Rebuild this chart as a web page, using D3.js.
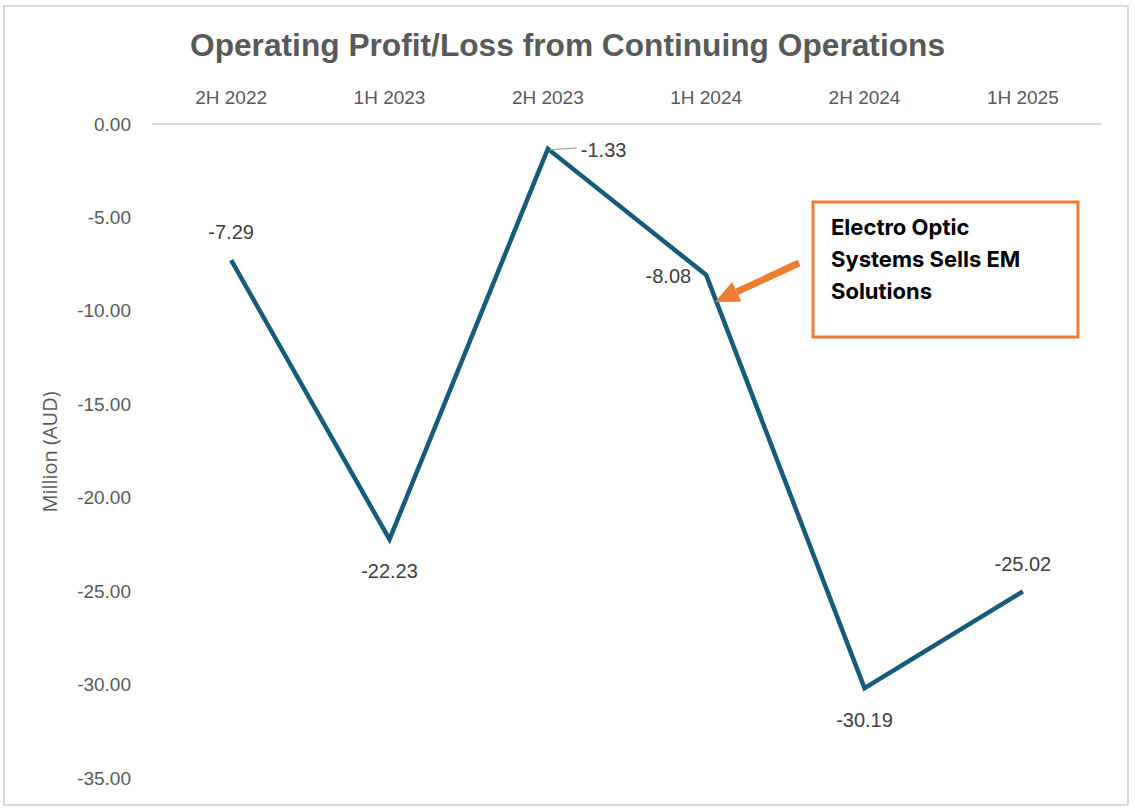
<!DOCTYPE html>
<html lang="en">
<head>
    <meta charset="UTF-8">
    <title>Operating Profit/Loss from Continuing Operations</title>
    <script src="https://d3js.org/d3.v7.min.js"></script>
    <style>
        body { margin: 0; background: #fff; }
        svg text { font-family: "Liberation Sans", Arial, sans-serif; }
    </style>
</head>
<body>
    <svg id="chart" width="1135" height="811"></svg>
    <script>
        // data
        const periods = ["2H 2022", "1H 2023", "2H 2023", "1H 2024", "2H 2024", "1H 2025"];
        const profit = [-7.29, -22.23, -1.33, -8.08, -30.19, -25.02];
        const yTicks = [0, -5, -10, -15, -20, -25, -30, -35];
        // where each data label sits relative to its point
        const labelPos = ["above", "below", "right", "left", "below", "above"];
        const noteLines = ["Electro Optic", "Systems Sells EM", "Solutions"];

        const svg = d3.select("#chart");
        const margin = { top: 124, left: 152, right: 33, bottom: 33 };
        const plotW = 1102 - margin.left;

        // outer frame
        svg.append("rect")
            .attr("x", 4).attr("y", 6).attr("width", 1124).attr("height", 799)
            .attr("fill", "#fff").attr("stroke", "#d9d9d9").attr("stroke-width", 2);

        const x = d3.scalePoint().domain(periods).range([margin.left, margin.left + plotW]).padding(0.5);
        const y = d3.scaleLinear().domain([0, -35]).range([124, 778]);

        // title (condensed look via textLength)
        svg.append("text")
            .attr("x", 190).attr("y", 56)
            .attr("textLength", 755)
            .attr("lengthAdjust", "spacingAndGlyphs")
            .style("font-family", "'Liberation Sans', sans-serif")
            .style("font-weight", "bold")
            .style("font-size", "31px")
            .attr("fill", "#595959")
            .text("Operating Profit/Loss from Continuing Operations");

        // category labels along the top
        svg.append("g").selectAll("text")
            .data(periods)
            .enter().append("text")
            .attr("x", d => x(d)).attr("y", 104)
            .attr("text-anchor", "middle")
            .style("font-family", "'Liberation Sans', sans-serif")
            .style("font-size", "19px")
            .attr("fill", "#595959")
            .text(d => d);

        // zero line
        svg.append("line")
            .attr("x1", margin.left).attr("x2", margin.left + plotW)
            .attr("y1", y(0)).attr("y2", y(0))
            .attr("stroke", "#d9d9d9").attr("stroke-width", 2);

        // y axis tick labels
        const yAxis = d3.axisLeft(y).tickValues(yTicks).tickFormat(d => d.toFixed(2)).tickSize(0).tickPadding(0);
        const gy = svg.append("g").attr("transform", "translate(131,0)").call(yAxis);
        gy.select(".domain").remove();
        gy.selectAll("text")
            .style("font-family", "'Liberation Sans', sans-serif")
            .style("font-size", "19px")
            .attr("fill", "#595959");

        // y axis title
        svg.append("text")
            .attr("transform", "translate(57,452) rotate(-90)")
            .attr("text-anchor", "middle")
            .style("font-family", "'Open Sans', sans-serif")
            .style("font-size", "20px")
            .attr("fill", "#595959")
            .text("Million (AUD)");

        // the line
        const line = d3.line().x((d, i) => x(periods[i])).y(d => y(d));
        svg.append("path")
            .datum(profit)
            .attr("d", line)
            .attr("fill", "none")
            .attr("stroke", "#175b7c")
            .attr("stroke-width", 4.5)
            .attr("stroke-linejoin", "miter");

        // leader line for -1.33
        const i133 = labelPos.indexOf("right");
        svg.append("line")
            .attr("x1", x(periods[i133]) + 2).attr("y1", y(profit[i133]) + 1)
            .attr("x2", x(periods[i133]) + 29).attr("y2", y(profit[i133]) - 1)
            .attr("stroke", "#a6a6a6").attr("stroke-width", 1.2);

        // data labels
        svg.append("g").selectAll("text")
            .data(profit)
            .enter().append("text")
            .attr("x", (d, i) => {
                const px = x(periods[i]);
                if (labelPos[i] === "right") return px + 33;
                if (labelPos[i] === "left") return px - 15;
                return px;
            })
            .attr("y", (d, i) => {
                const py = y(d);
                if (labelPos[i] === "above") return py - 21;
                if (labelPos[i] === "below") return py + 39;
                return py + 8;
            })
            .attr("text-anchor", (d, i) => labelPos[i] === "right" ? "start" : labelPos[i] === "left" ? "end" : "middle")
            .style("font-family", "'Liberation Sans', sans-serif")
            .style("font-size", "20px")
            .attr("fill", "#404040")
            .text(d => d.toFixed(2));

        // annotation box
        svg.append("rect")
            .attr("x", 813).attr("y", 202).attr("width", 265).attr("height", 135)
            .attr("fill", "#fff").attr("stroke", "#ed7d31").attr("stroke-width", 3);

        svg.append("g").selectAll("text")
            .data(noteLines)
            .enter().append("text")
            .attr("x", 831).attr("y", (d, i) => 235 + i * 32)
            .style("font-family", "Inter, sans-serif")
            .style("font-weight", "bold")
            .style("font-size", "22px")
            .attr("fill", "#000")
            .text(d => d);

        // arrow: shaft plus hand-drawn head
        const tail = [799, 263], tip = [715, 302];
        const ang = Math.atan2(tip[1] - tail[1], tip[0] - tail[0]);
        const headLen = 24, headHalf = 11;
        const base = [tip[0] - headLen * Math.cos(ang), tip[1] - headLen * Math.sin(ang)];
        svg.append("line")
            .attr("x1", tail[0]).attr("y1", tail[1])
            .attr("x2", base[0]).attr("y2", base[1])
            .attr("stroke", "#ed7d31").attr("stroke-width", 7);
        svg.append("path")
            .attr("d", d3.line()([
                tip,
                [base[0] + headHalf * Math.sin(ang), base[1] - headHalf * Math.cos(ang)],
                [base[0] - headHalf * Math.sin(ang), base[1] + headHalf * Math.cos(ang)]
            ]) + "Z")
            .attr("fill", "#ed7d31");
    </script>
</body>
</html>
